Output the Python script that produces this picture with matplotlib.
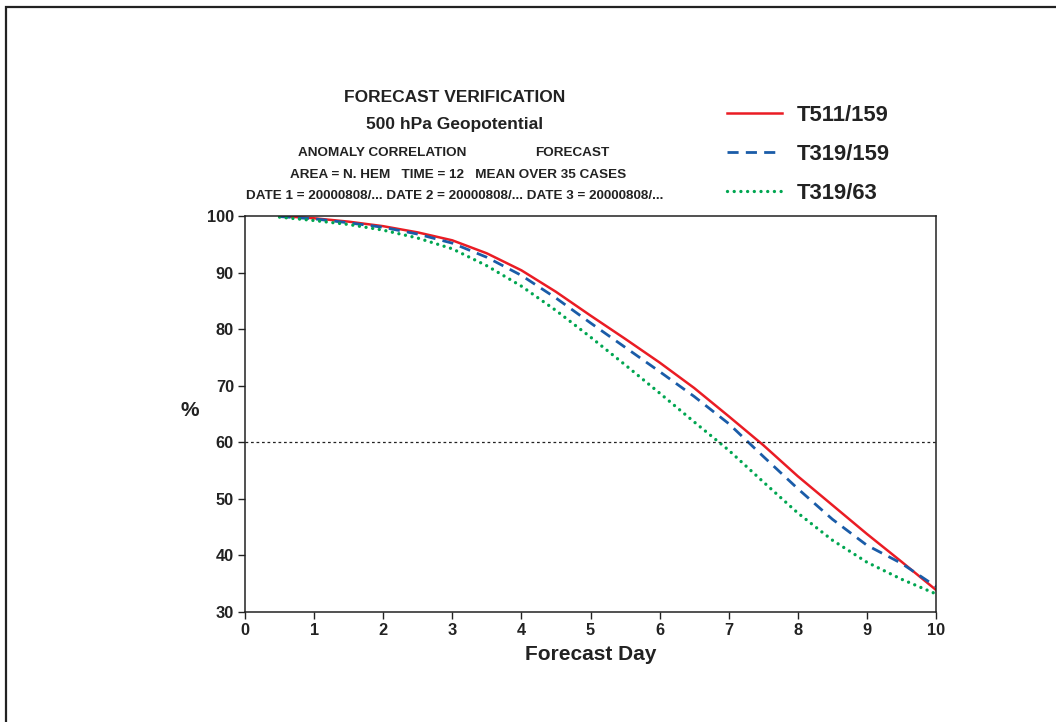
import matplotlib
matplotlib.use("Agg")
import numpy as np
from matplotlib import pyplot as plt
from matplotlib.patches import Rectangle

days = [0.5, 1, 1.5, 2, 2.5, 3, 3.5, 4, 4.5, 5, 5.5, 6, 6.5, 7, 7.5, 8, 8.5, 9, 9.5, 10]
t511_159 = [100.0, 99.6, 99.0, 98.2, 97.1, 95.7, 93.4, 90.4, 86.6, 82.4,
            78.3, 74.1, 69.6, 64.6, 59.5, 54.0, 48.9, 43.8, 38.9, 33.9]
t319_159 = [99.9, 99.5, 98.8, 98.0, 96.8, 95.2, 92.7, 89.5, 85.5, 81.1,
            76.8, 72.5, 68.1, 63.3, 57.5, 51.8, 46.4, 41.8, 38.6, 34.5]
t319_63 = [99.8, 99.2, 98.5, 97.5, 96.1, 94.2, 91.2, 87.6, 83.3, 78.6,
           73.7, 68.7, 63.6, 58.6, 53.0, 47.5, 42.7, 38.8, 35.8, 33.2]
labels = ["T511/159", "T319/159", "T319/63"]
x_ticks = list(range(0, 11))
y_ticks = list(range(30, 101, 10))

plt.rcParams['font.family'] = ['Liberation Sans', 'DejaVu Sans']
plt.rcParams['font.weight'] = 'bold'

W, H = 1056, 722
fig = plt.figure(figsize=(W / 100, H / 100), dpi=100)

# outer frame (only top/left visible in reference)
fig.patches.append(Rectangle((6 / W, -0.1), 1.2, 1 - 7 / H + 0.1, transform=fig.transFigure,
                             fill=False, edgecolor='#222222', lw=1.6))

ax = fig.add_axes([245 / W, 1 - 612 / H, (936 - 245) / W, (612 - 216) / H])

ax.plot(days, t511_159, color='#ea1c24', lw=1.8, label=labels[0])
ax.plot(days, t319_159, color='#1a5ca8', lw=2.0, linestyle=(0, (4, 2.6)), label=labels[1])
ax.plot(days, t319_63, color='#00a651', lw=2.4, linestyle=(0, (0.01, 2.0)),
        dash_capstyle='round', label=labels[2])
ax.axhline(60, color='#222222', lw=0.9, linestyle=(0, (2.2, 2.2)))

ax.set_xlim(0, 10)
ax.set_ylim(30, 100)
ax.set_xticks(x_ticks)
ax.set_yticks(y_ticks)
ax.tick_params(direction='out', length=5, width=1, labelsize=11.8, colors='#222222', pad=3)
for lab in ax.get_xticklabels() + ax.get_yticklabels():
    lab.set_fontweight('bold')
for s in ax.spines.values():
    s.set_linewidth(1.1)
    s.set_color('#222222')

ax.set_xlabel("Forecast Day", fontsize=15, fontweight='bold', color='#222222', labelpad=5)
ax.set_ylabel("%", fontsize=15, fontweight='bold', color='#222222', rotation=0,
              ha='center', va='center')
ax.yaxis.set_label_coords(-0.08, 0.508)

tc = '#222222'
fs_small = 9.7
fig.text(455 / W, 1 - 98 / H, "FORECAST VERIFICATION", ha='center', va='center', fontsize=12.5, fontweight='bold', color=tc)
fig.text(455 / W, 1 - 125 / H, "500 hPa Geopotential", ha='center', va='center', fontsize=12.5, fontweight='bold', color=tc)
fig.text(382 / W, 1 - 153 / H, "ANOMALY CORRELATION", ha='center', va='center', fontsize=fs_small, fontweight='bold', color=tc)
fig.text(572 / W, 1 - 153 / H, "FORECAST", ha='center', va='center', fontsize=fs_small, fontweight='bold', color=tc)
fig.text(458 / W, 1 - 175 / H, "AREA = N. HEM   TIME = 12   MEAN OVER 35 CASES", ha='center', va='center', fontsize=fs_small, fontweight='bold', color=tc)
fig.text(455 / W, 1 - 196 / H, "DATE 1 = 20000808/... DATE 2 = 20000808/... DATE 3 = 20000808/...", ha='center', va='center', fontsize=fs_small, fontweight='bold', color=tc)

leg = fig.legend(loc='upper left', bbox_to_anchor=(727 / W, 1 - 105 / H), frameon=False,
                 handlelength=2.5, handletextpad=0.7, labelspacing=0.82,
                 borderpad=0, borderaxespad=0,
                 labelcolor=tc, prop={'weight': 'bold', 'size': 15.8})

fig.savefig("out.png", dpi=100)
